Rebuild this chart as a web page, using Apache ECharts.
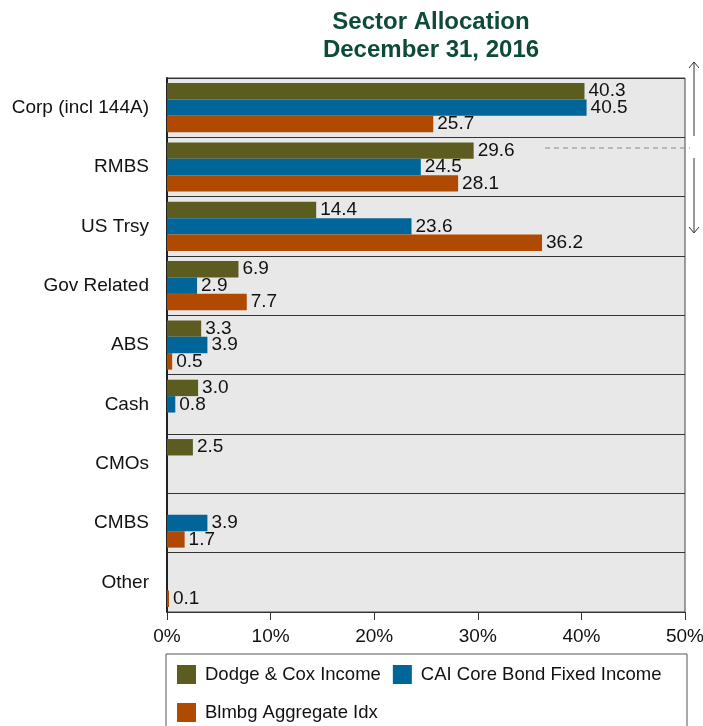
<!DOCTYPE html>
<html>
<head>
<meta charset="utf-8">
<script src="https://cdn.jsdelivr.net/npm/echarts@6/dist/echarts.min.js"></script>
<style>
  html, body { margin: 0; padding: 0; background: #fff; }
  #chart { width: 703px; height: 726px; }
</style>
</head>
<body>
<div id="chart"></div>
<script>
// 类别和数据
const sectors = ['Corp (incl 144A)', 'RMBS', 'US Trsy', 'Gov Related', 'ABS', 'Cash', 'CMOs', 'CMBS', 'Other']
const dodgeCox = [40.3, 29.6, 14.4, 6.9, 3.3, 3.0, 2.5, '-', '-']
const caiCore = [40.5, 24.5, 23.6, 2.9, 3.9, 0.8, '-', 3.9, '-']
const blmbgAgg = [25.7, 28.1, 36.2, 7.7, 0.5, '-', '-', 1.7, 0.1]
const xTicks = [0, 10, 20, 30, 40, 50]

const font = '"Liberation Sans", Arial, sans-serif'

function makeSeries(name, data, color) {
    return {
        name: name,
        type: 'bar',
        data: data,
        barGap: '0%',
        barCategoryGap: '17%',
        barMinHeight: 2,
        itemStyle: { color: color },
        label: {
            show: true,
            position: 'right',
            distance: 4,
            fontSize: 19,
            fontFamily: font,
            color: '#111',
            formatter: p => Number(p.value).toFixed(1)
        }
    }
}

const chart = echarts.init(document.getElementById('chart'))
chart.setOption({
    animation: false,
    title: {
        text: 'Sector Allocation\nDecember 31, 2016',
        left: 426,
        textAlign: 'center',
        top: 3,
        textStyle: { fontSize: 24, fontWeight: 'bold', color: '#0d4a3a', fontFamily: font, lineHeight: 28 }
    },
    legend: [
        {
            data: ['Dodge & Cox Income', 'CAI Core Bond Fixed Income'],
            left: 172, top: 660,
            icon: 'rect',
            itemWidth: 19, itemHeight: 19, itemGap: 12,
            textStyle: { fontSize: 18.5, color: '#111', fontFamily: font, padding: [0, 0, 0, 4] }
        },
        {
            data: ['Blmbg Aggregate Idx'],
            left: 172, top: 698,
            icon: 'rect',
            itemWidth: 19, itemHeight: 19,
            textStyle: { fontSize: 18.5, color: '#111', fontFamily: font, padding: [0, 0, 0, 4] }
        }
    ],
    grid: {
        left: 167, right: 18, top: 78, bottom: 114,
        outerBoundsMode: 'none',
        show: true,
        backgroundColor: '#e8e8e8',
        borderColor: '#444',
        borderWidth: 1
    },
    xAxis: {
        type: 'value',
        min: xTicks[0],
        max: xTicks[xTicks.length - 1],
        interval: 10,
        axisLine: { show: true, lineStyle: { color: '#333' } },
        axisTick: { show: true, length: 8, lineStyle: { color: '#333' } },
        splitLine: { show: false },
        axisLabel: { formatter: '{value}%', fontSize: 19, color: '#111', fontFamily: font, margin: 15 }
    },
    yAxis: {
        type: 'category',
        data: sectors,
        inverse: true,
        axisLine: { show: true, lineStyle: { color: '#222', width: 2 } },
        axisTick: { show: false },
        splitLine: { show: true, lineStyle: { color: '#333', width: 1 } },
        axisLabel: { fontSize: 19, color: '#111', fontFamily: font, margin: 18 }
    },
    series: [
        makeSeries('Dodge & Cox Income', dodgeCox, '#5c5c20'),
        makeSeries('CAI Core Bond Fixed Income', caiCore, '#006699'),
        makeSeries('Blmbg Aggregate Idx', blmbgAgg, '#b04a00')
    ],
    graphic: [
        // 图例外框
        { type: 'rect', z: -1, shape: { x: 166, y: 654, width: 521, height: 80 }, style: { fill: '#fff', stroke: '#555', lineWidth: 1 } },
        // 右侧的注释箭头（原图被裁剪）
        { type: 'line', shape: { x1: 694, y1: 62, x2: 694, y2: 136 }, style: { stroke: '#333', lineWidth: 1 } },
        { type: 'polyline', shape: { points: [[689, 68], [694, 62], [699, 68]] }, style: { stroke: '#333', fill: null, lineWidth: 1 } },
        { type: 'line', shape: { x1: 694, y1: 158, x2: 694, y2: 233 }, style: { stroke: '#333', lineWidth: 1 } },
        { type: 'polyline', shape: { points: [[689, 227], [694, 233], [699, 227]] }, style: { stroke: '#333', fill: null, lineWidth: 1 } },
        { type: 'line', shape: { x1: 545, y1: 148, x2: 690, y2: 148 }, style: { stroke: '#888', lineWidth: 1, lineDash: [5, 4] } }
    ]
})
</script>
</body>
</html>
